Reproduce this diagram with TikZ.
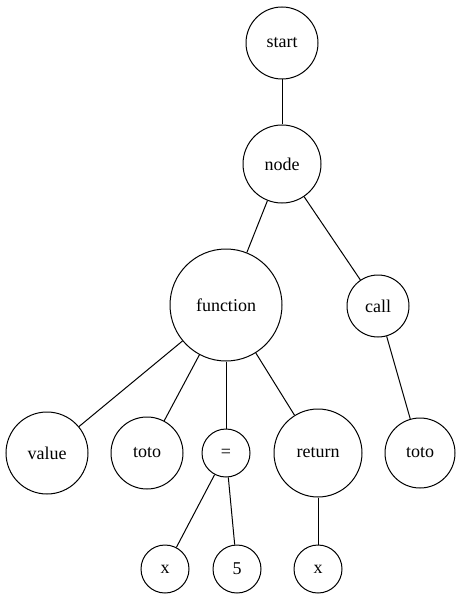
\documentclass[tikz,border=0pt]{standalone}
\usepackage{fontspec}
\setmainfont{Liberation Serif}
\begin{document}
\begin{tikzpicture}[x=1bp,y=-1bp,
  vert/.style={draw=black,circle,line width=1bp,inner sep=0pt,
    minimum size=#1*2bp,font=\fontsize{18bp}{20bp}\selectfont},
  link/.style={draw=black,line width=1bp}]
\useasboundingbox (0,0) rectangle (459,598);
% tree nodes
\node[vert=36] (start) at (282,43) {start};
\node[vert=39] (node) at (282,164) {node};
\node[vert=56] (function) at (226,305) {function};
\node[vert=31] (call) at (378,306) {call};
\node[vert=41] (value) at (47,453) {value};
\node[vert=36] (totoa) at (147,453) {toto};
\node[vert=24] (eq) at (226,453) {=};
\node[vert=44] (return) at (318,453) {return};
\node[vert=35] (totob) at (420,453) {toto};
\node[vert=24] (xa) at (165,569) {x};
\node[vert=24] (five) at (237,569) {5};
\node[vert=24] (xb) at (318,569) {x};
% edges
\draw[link] (start) -- (node);
\draw[link] (node) -- (function);
\draw[link] (node) -- (call);
\draw[link] (function) -- (value);
\draw[link] (function) -- (totoa);
\draw[link] (function) -- (eq);
\draw[link] (function) -- (return);
\draw[link] (call) -- (totob);
\draw[link] (eq) -- (xa);
\draw[link] (eq) -- (five);
\draw[link] (return) -- (xb);
\end{tikzpicture}
\end{document}
